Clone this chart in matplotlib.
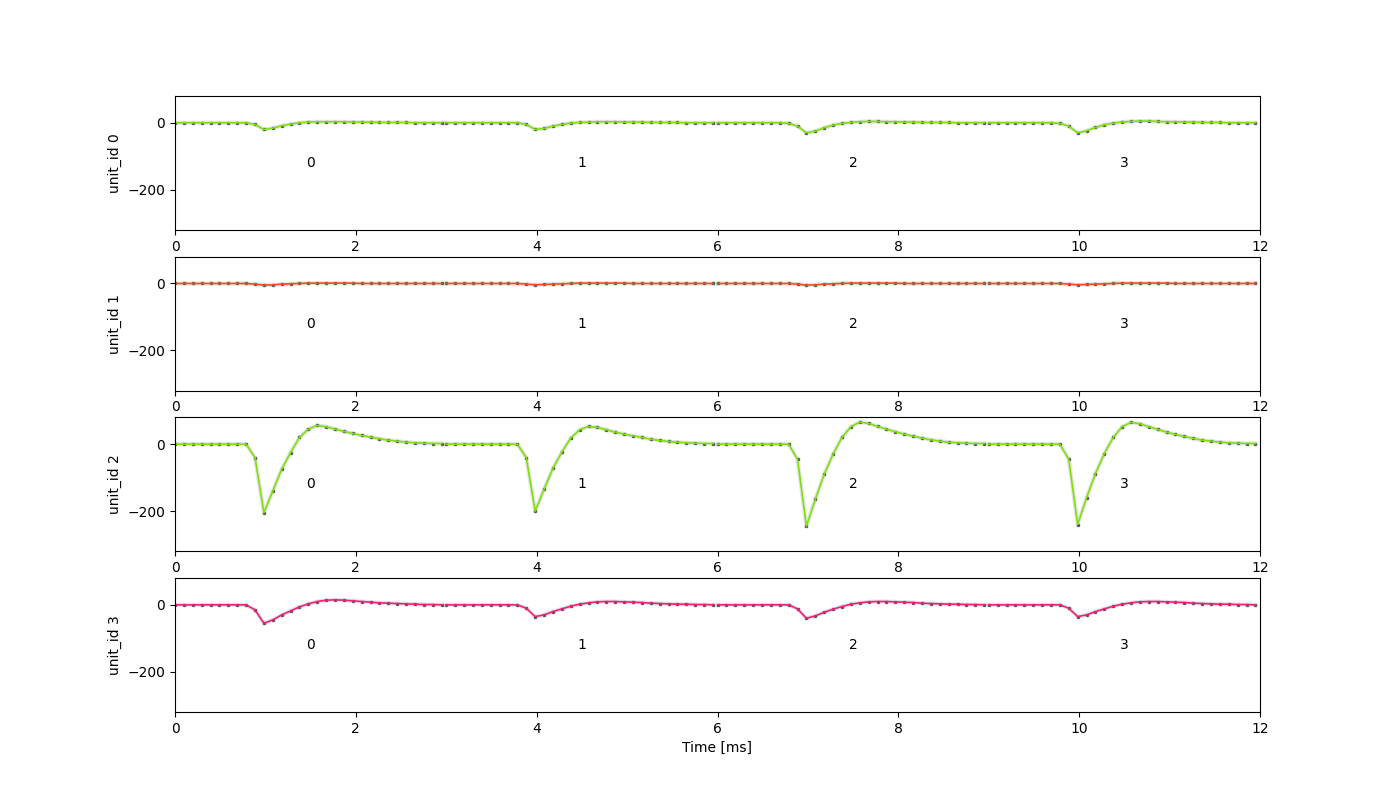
import matplotlib
matplotlib.use("Agg")
import matplotlib.pyplot as plt
import numpy as np

# template samples, 31 per channel (0..3 ms), per unit, 4 channels
U0 = [
    [0, 0, 0, 0, 0, 0, 0, 0, 0, -5, -20, -16, -9, -4, 0, 2, 3, 3, 3, 3, 2, 2, 2, 1, 1, 1, 1, 0, 0, 0, 0],
    [0, 0, 0, 0, 0, 0, 0, 0, 0, -5, -20, -17, -10, -5, -1, 1, 2, 3, 3, 3, 2, 2, 2, 1, 1, 1, 1, 0, 0, 0, 0],
    [0, 0, 0, 0, 0, 0, 0, 0, -2, -10, -30, -25, -15, -7, -2, 1, 3, 4, 4, 3, 3, 2, 2, 1, 1, 1, 1, 0, 0, 0, 0],
    [0, 0, 0, 0, 0, 0, 0, 0, -2, -10, -30, -24, -14, -6, -1, 2, 4, 5, 5, 4, 3, 3, 2, 2, 1, 1, 1, 0, 0, 0, 0],
]
U1 = [
    [0, 0, 0, 0, 0, 0, 0, 0, 0, -2, -5, -4, -2, -1, 0, 1, 1, 1, 1, 1, 1, 0, 0, 0, 0, 0, 0, 0, 0, 0, 0],
    [0, 0, 0, 0, 0, 0, 0, 0, 0, -2, -4, -3, -2, -1, 0, 1, 1, 1, 1, 1, 1, 0, 0, 0, 0, 0, 0, 0, 0, 0, 0],
    [0, 0, 0, 0, 0, 0, 0, 0, 0, -2, -5, -4, -2, -1, 0, 1, 1, 1, 1, 1, 1, 0, 0, 0, 0, 0, 0, 0, 0, 0, 0],
    [0, 0, 0, 0, 0, 0, 0, 0, 0, -2, -4, -3, -2, -1, 0, 1, 1, 1, 1, 1, 1, 0, 0, 0, 0, 0, 0, 0, 0, 0, 0],
]
U2 = [
    [0, 0, 0, 0, 0, 0, 0, 0, 0, -40, -205, -140, -75, -25, 20, 45, 56, 52, 45, 38, 32, 26, 21, 16, 12, 9, 6, 4, 3, 2, 2],
    [0, 0, 0, 0, 0, 0, 0, 0, 0, -40, -200, -135, -72, -24, 18, 43, 53, 50, 43, 36, 30, 25, 20, 15, 11, 8, 6, 4, 3, 2, 2],
    [0, 0, 0, 0, 0, 0, 0, 0, 0, -45, -245, -165, -90, -30, 20, 52, 66, 62, 53, 45, 37, 30, 24, 18, 13, 9, 6, 4, 3, 2, 2],
    [0, 0, 0, 0, 0, 0, 0, 0, 0, -45, -240, -160, -88, -28, 20, 52, 65, 61, 52, 44, 36, 29, 23, 17, 12, 9, 6, 4, 3, 2, 2],
]
U3 = [
    [0, 0, 0, 0, 0, 0, 0, 0, 0, -15, -55, -45, -30, -18, -6, 3, 10, 14, 15, 14, 12, 10, 8, 6, 5, 4, 3, 2, 1, 1, 0],
    [0, 0, 0, 0, 0, 0, 0, 0, 0, -10, -35, -30, -20, -12, -4, 2, 6, 9, 10, 10, 9, 8, 7, 5, 4, 3, 2, 2, 1, 1, 0],
    [0, 0, 0, 0, 0, 0, 0, 0, 0, -12, -40, -33, -22, -13, -5, 2, 6, 9, 10, 10, 9, 8, 7, 5, 4, 3, 2, 2, 1, 1, 0],
    [0, 0, 0, 0, 0, 0, 0, 0, 0, -10, -35, -30, -20, -12, -4, 2, 6, 9, 10, 10, 9, 8, 7, 5, 4, 3, 2, 2, 1, 1, 0],
]
UNITS = [U0, U1, U2, U3]
COLORS = ["#7fe00a", "#ff4a1c", "#7fe00a", "#f0207a"]
CHANNELS = [0, 1, 2, 3]

fig, axes = plt.subplots(4, 1, figsize=(14, 8))
t = np.linspace(0, 2.95, 31)
for u, (ax, templ) in enumerate(zip(axes, UNITS)):
    for ch, wf in zip(CHANNELS, templ):
        x = t + 3 * ch
        wf = np.array(wf)
        ax.plot(x, wf, color="gray", lw=3, alpha=0.2)
        ax.plot(x, wf, ls="none", marker="s", ms=2.0, color="black", alpha=0.5)
        ax.plot(x, wf, color=COLORS[u], lw=1.2)
        ax.text(3 * ch + 1.5, -120, str(ch), ha="center", va="center")
    ax.set_xlim(0, 12)
    ax.set_ylim(-320, 80)
    ax.set_yticks([-200, 0])
    ax.set_ylabel(f"unit_id {u}")
axes[-1].set_xlabel("Time [ms]")
fig.savefig("out.png", dpi=100)
